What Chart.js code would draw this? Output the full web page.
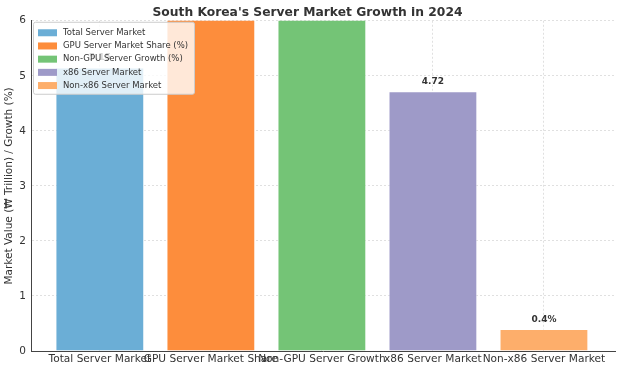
<!DOCTYPE html>
<html>
<head>
<meta charset="utf-8">
<script src="https://cdn.jsdelivr.net/npm/chart.js@4"></script>
<style>
  html, body { margin: 0; padding: 0; background: #fff; }
  #wrap { width: 621px; height: 371px; }
</style>
</head>
<body>
<div id="wrap"><canvas id="myChart" width="621" height="371"></canvas></div>
<script>
// data (the two middle bars run past the top of the axis)
const categories = ['Total Server Market', 'GPU Server Market Share', 'Non-GPU Server Growth', 'x86 Server Market', 'Non-x86 Server Market'];
const seriesNames = ['Total Server Market', 'GPU Server Market Share (%)', 'Non-GPU Server Growth (%)', 'x86 Server Market', 'Non-x86 Server Market'];
const values = [5.15, 15, 7, 4.72, 0.4];
const valueLabels = ['5.15', '15%', '7%', '4.72', '0.4%'];
const colors = ['#6baed6', '#fd8d3c', '#74c476', '#9e9ac8', '#fdae6b'];
const yTicks = [0, 1, 2, 3, 4, 5, 6];

const FONT = "'DejaVu Sans', sans-serif";

// value text over each bar, clipped to the plot
const barLabels = {
  id: 'barLabels',
  afterDatasetsDraw(chart) {
    const ctx = chart.ctx;
    const area = chart.chartArea;
    ctx.save();
    ctx.beginPath();
    ctx.rect(area.left, area.top, area.right - area.left, area.bottom - area.top);
    ctx.clip();
    ctx.font = 'bold 9px ' + FONT;
    ctx.fillStyle = '#333';
    ctx.textAlign = 'center';
    ctx.textBaseline = 'bottom';
    chart.data.datasets.forEach((ds, i) => {
      const bar = chart.getDatasetMeta(i).data[0];
      if (!bar) return;
      ctx.fillText(valueLabels[i], bar.x, bar.y - 5);
    });
    ctx.restore();
  }
};

// matplotlib-like legend box in the upper left of the plot
const boxLegend = {
  id: 'boxLegend',
  afterDraw(chart) {
    const ctx = chart.ctx;
    const x = chart.chartArea.left + 2, y = chart.chartArea.top + 1;
    const w = 161, h = 72;
    ctx.save();
    ctx.fillStyle = 'rgba(255,255,255,0.8)';
    ctx.strokeStyle = '#cccccc';
    ctx.lineWidth = 1;
    ctx.beginPath();
    ctx.roundRect(x + 0.5, y + 0.5, w, h, 2);
    ctx.fill();
    ctx.stroke();
    ctx.font = '8.5px ' + FONT;
    ctx.textBaseline = 'middle';
    chart.data.datasets.forEach((ds, i) => {
      const cy = y + 11 + i * 13.2;
      ctx.fillStyle = ds.backgroundColor;
      ctx.fillRect(x + 5, cy - 3.5, 19, 7);
      ctx.fillStyle = '#333';
      ctx.fillText(ds.label, x + 30, cy);
    });
    ctx.restore();
  }
};

const ctx = document.getElementById('myChart').getContext('2d');
const myChart = new Chart(ctx, {
  type: 'bar',
  data: {
    datasets: seriesNames.map((name, i) => ({
      label: name,
      data: [{ x: i, y: values[i] }],
      backgroundColor: colors[i],
      borderColor: 'rgba(255,255,255,0.5)',
      borderWidth: 1,
      barPercentage: 0.8,
      categoryPercentage: 1
    }))
  },
  options: {
    responsive: false,
    animation: false,
    grouped: false,
    layout: { padding: { left: 0, right: 6, top: 0, bottom: 0 } },
    plugins: {
      legend: { display: false },
      tooltip: { enabled: false },
      title: {
        display: true,
        text: "South Korea's Server Market Growth in 2024",
        color: '#333',
        font: { family: FONT, size: 12.3, weight: 'bold' },
        padding: { top: 5, bottom: 1 }
      }
    },
    scales: {
      x: {
        type: 'linear',
        offset: false,
        min: -0.62,
        max: 4.64,
        afterBuildTicks(axis) { axis.ticks = categories.map((c, i) => ({ value: i })); },
        afterFit(axis) { axis.height = 20; },
        ticks: {
          autoSkip: false,
          maxRotation: 0,
          padding: 2,
          color: '#333',
          font: { family: FONT, size: 10.6 },
          callback: (v) => categories[v]
        },
        grid: { color: '#e0e0e0', offset: false, drawTicks: false },
        border: { display: true, color: '#444', width: 1, dash: [2, 2] }
      },
      y: {
        min: 0,
        max: 6,
        afterBuildTicks(axis) { axis.ticks = yTicks.map(v => ({ value: v })); },
        afterFit(axis) { axis.width = 31; },
        ticks: {
          padding: 5,
          color: '#333',
          font: { family: FONT, size: 10.5 }
        },
        grid: { color: '#e0e0e0', drawTicks: false },
        border: { display: true, color: '#444', width: 1, dash: [2, 2] },
        title: {
          display: true,
          text: 'Market Value (₩ Trillion) / Growth (%)',
          color: '#333',
          font: { family: FONT, size: 10.5 },
          padding: { top: 3, bottom: 0 }
        }
      }
    }
  },
  plugins: [barLabels, boxLegend]
});
</script>
</body>
</html>
